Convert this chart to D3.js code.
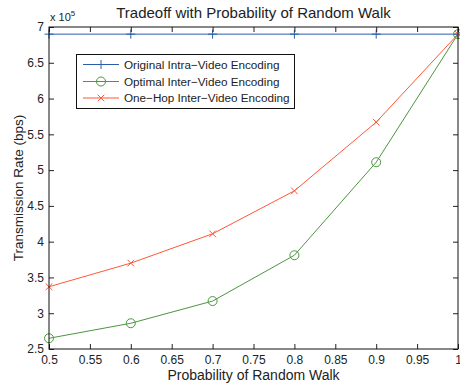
<!DOCTYPE html>
<html><head><meta charset="utf-8">
<script src="https://cdn.jsdelivr.net/npm/d3@7"></script>
<style>body{margin:0;background:#fff}svg{display:block}text{font-family:Arial,"Liberation Sans",Helvetica,sans-serif;fill:#222}</style>
</head><body><svg id="c" width="460" height="385"></svg>
<script>
const probs = [0.5, 0.6, 0.7, 0.8, 0.9, 1.0];
const intraRate = [6.9, 6.9, 6.9, 6.9, 6.9, 6.9];
const optimalRate = [2.65, 2.86, 3.17, 3.81, 5.11, 6.9];
const oneHopRate = [3.37, 3.70, 4.11, 4.71, 5.67, 6.9];
const seriesNames = ["Original Intra\u2212Video Encoding", "Optimal Inter\u2212Video Encoding", "One\u2212Hop Inter\u2212Video Encoding"];
const xTicks = [0.5,0.55,0.6,0.65,0.7,0.75,0.8,0.85,0.9,0.95,1];
const yTicks = [2.5,3,3.5,4,4.5,5,5.5,6,6.5,7];

const svg = d3.select("#c");
const L=49, R=458, T=27, B=349;
const x = d3.scaleLinear().domain([0.5,1]).range([L,R]);
const y = d3.scaleLinear().domain([2.5,7]).range([B,T]);
const colors = ["#2a5ea8", "#4c963f", "#ff5736"];
const markers = ["plus","circle","cross"];

svg.append("rect").attr("x",L).attr("y",T).attr("width",R-L).attr("height",B-T).attr("fill","#fff");

const data = [intraRate, optimalRate, oneHopRate];
const line = d3.line().x((d,i)=>x(probs[i])).y(d=>y(d));
function drawMarker(g, type, cx, cy, col){
  if(type==="plus"){
    g.append("path").attr("d",`M${cx-4.5},${cy}H${cx+4.5}M${cx},${cy-4.5}V${cy+4.5}`).attr("stroke",col).attr("stroke-width",1).attr("fill","none");
  } else if(type==="circle"){
    g.append("circle").attr("cx",cx).attr("cy",cy).attr("r",4.5).attr("stroke",col).attr("stroke-width",1).attr("fill","none");
  } else {
    g.append("path").attr("d",`M${cx-3.3},${cy-3.3}L${cx+3.3},${cy+3.3}M${cx-3.3},${cy+3.3}L${cx+3.3},${cy-3.3}`).attr("stroke",col).attr("stroke-width",1).attr("fill","none");
  }
}
data.forEach((s,k)=>{
  const g = svg.append("g");
  g.append("path").datum(s).attr("d",line).attr("fill","none").attr("stroke",colors[k]).attr("stroke-width",1);
  s.forEach((v,i)=>drawMarker(g, markers[k], x(probs[i]), y(v), colors[k]));
});

const tl = 5;
const xb = svg.append("g").attr("transform",`translate(0,${B})`).call(d3.axisBottom(x).tickValues(xTicks).tickSizeInner(-tl).tickSizeOuter(0).tickPadding(6).tickFormat(d=>d3.format("")(+d.toFixed(2))));
const xt = svg.append("g").attr("transform",`translate(0,${T})`).call(d3.axisTop(x).tickValues(xTicks).tickSizeInner(-tl).tickSizeOuter(0).tickFormat(""));
const yl = svg.append("g").attr("transform",`translate(${L},0)`).call(d3.axisLeft(y).tickValues(yTicks).tickSizeInner(-tl).tickSizeOuter(0).tickPadding(5).tickFormat(d=>d3.format("")(+d.toFixed(1))));
const yr = svg.append("g").attr("transform",`translate(${R},0)`).call(d3.axisRight(y).tickValues(yTicks).tickSizeInner(-tl).tickSizeOuter(0).tickFormat(""));
[xb,xt,yl,yr].forEach(a=>{a.selectAll(".domain").remove();a.selectAll("line").attr("stroke","#222");a.selectAll("text").attr("font-size","12px").attr("fill","#222").attr("font-family","Arial, Liberation Sans, sans-serif");});
xb.selectAll("text").attr("dy",null).attr("y",null).attr("transform","translate(0,15)");
svg.append("rect").attr("x",L).attr("y",T).attr("width",R-L).attr("height",B-T).attr("fill","none").attr("stroke","#111").attr("stroke-width",1);

const ex = svg.append("text").attr("x",50).attr("y",21).attr("font-size","11px");
ex.append("tspan").text("x 10");
ex.append("tspan").attr("dy",-5).attr("font-size","8px").text("5");

svg.append("text").attr("x",(L+R)/2).attr("y",17.5).attr("text-anchor","middle").attr("font-size","15px").text("Tradeoff with Probability of Random Walk");
svg.append("text").attr("x",(L+R)/2).attr("y",380).attr("text-anchor","middle").attr("font-size","14px").text("Probability of Random Walk");
svg.append("text").attr("transform",`translate(23,${(T+B)/2}) rotate(-90)`).attr("text-anchor","middle").attr("font-size","13.5px").text("Transmission Rate (bps)");

const lg = svg.append("g");
lg.append("rect").attr("x",76.5).attr("y",54.5).attr("width",218).attr("height",54).attr("fill","#fff").attr("stroke","#111").attr("stroke-width",1);
const ly = [64.5, 81.5, 98];
seriesNames.forEach((n,k)=>{
  lg.append("line").attr("x1",83).attr("x2",119).attr("y1",ly[k]).attr("y2",ly[k]).attr("stroke",colors[k]).attr("stroke-width",1);
  drawMarker(lg, markers[k], 101, ly[k], colors[k]);
  lg.append("text").attr("x",124).attr("y",ly[k]+4).attr("font-size","11.7px").text(n);
});
</script></body></html>
